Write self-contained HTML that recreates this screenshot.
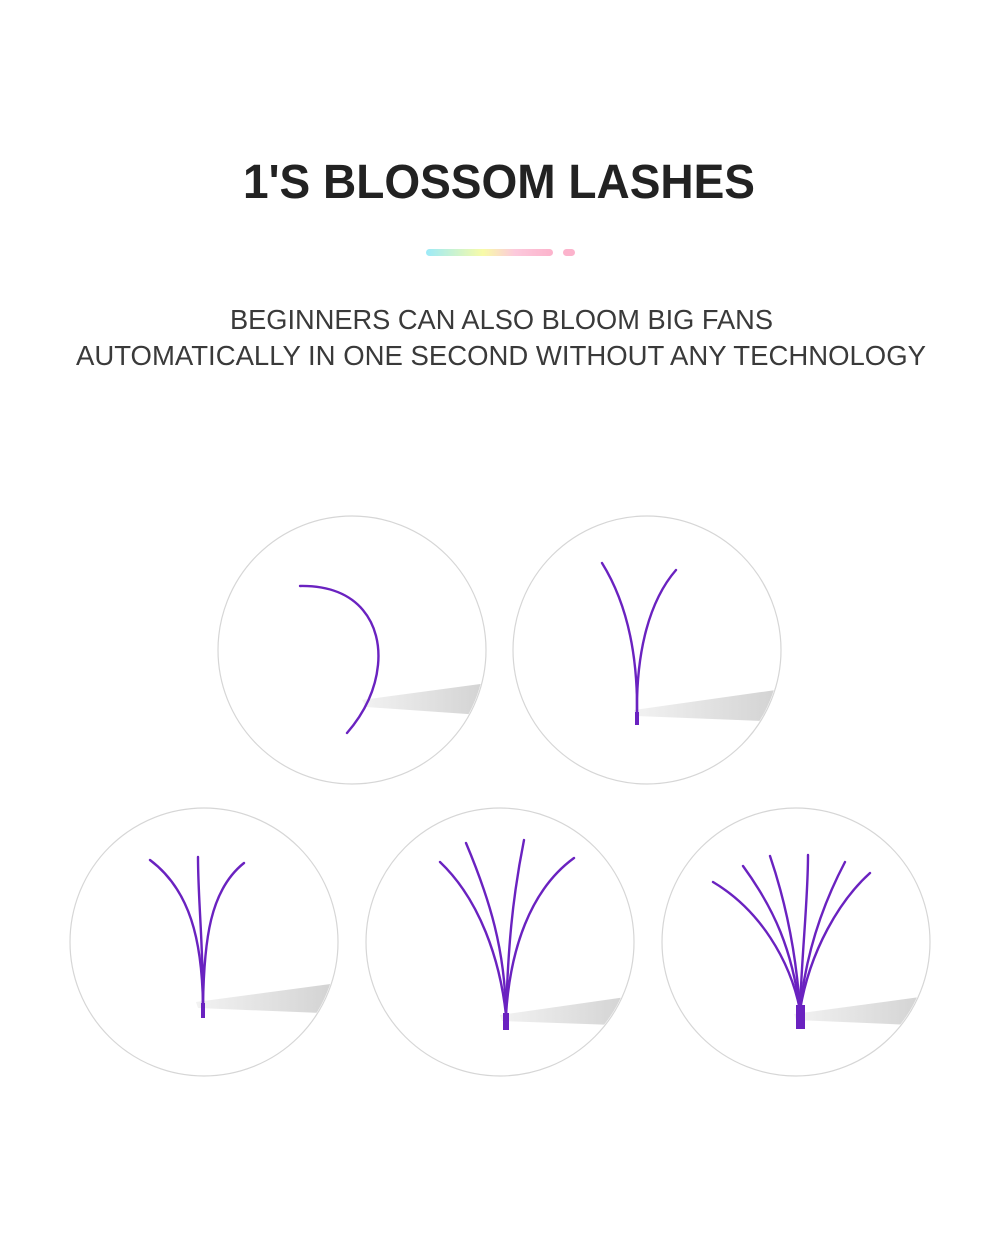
<!DOCTYPE html><html><head><style>
body{margin:0;width:1000px;height:1252px;background:#fff;font-family:"Liberation Sans",sans-serif;overflow:hidden}
</style></head><body>
<svg width="1000" height="1252" viewBox="0 0 1000 1252" xmlns="http://www.w3.org/2000/svg">
<defs>
<linearGradient id="bar" x1="0" x2="1"><stop offset="0" stop-color="#9ceaf8"/><stop offset=".45" stop-color="#f8fba8"/><stop offset=".7" stop-color="#fcc9dc"/><stop offset="1" stop-color="#fcb3cc"/></linearGradient>
<linearGradient id="tw" x1="0" x2="1"><stop offset="0" stop-color="#f2f2f2"/><stop offset="1" stop-color="#d0d0d0"/></linearGradient>
<clipPath id="c1"><circle cx="352" cy="650" r="133"/></clipPath>
<clipPath id="c2"><circle cx="647" cy="650" r="133"/></clipPath>
<clipPath id="c3"><circle cx="204" cy="942" r="133"/></clipPath>
<clipPath id="c4"><circle cx="500" cy="942" r="133"/></clipPath>
<clipPath id="c5"><circle cx="796" cy="942" r="133"/></clipPath>
</defs>
<text x="243" y="198" textLength="512" lengthAdjust="spacingAndGlyphs" font-size="48" font-weight="bold" fill="#222">1'S BLOSSOM LASHES</text>
<rect x="426" y="249" width="127" height="7" rx="3.5" fill="url(#bar)"/>
<rect x="563" y="249" width="12" height="7" rx="3.5" fill="#fcb3cc"/>
<text x="230" y="329" textLength="543" lengthAdjust="spacingAndGlyphs" font-size="28" fill="#3a3a3a">BEGINNERS CAN ALSO BLOOM BIG FANS</text>
<text x="76" y="365" textLength="850" lengthAdjust="spacingAndGlyphs" font-size="28" fill="#3a3a3a">AUTOMATICALLY IN ONE SECOND WITHOUT ANY TECHNOLOGY</text>
<g fill="none" stroke="#d6d6d6" stroke-width="1.2">
<circle cx="352" cy="650" r="134"/><circle cx="647" cy="650" r="134"/>
<circle cx="204" cy="942" r="134"/><circle cx="500" cy="942" r="134"/><circle cx="796" cy="942" r="134"/>
</g>
<g fill="url(#tw)">
<polygon clip-path="url(#c1)" points="362,700 495,682 495,716 366,707"/>
<polygon clip-path="url(#c2)" points="634,710 790,688 790,722 636,716"/>
<polygon clip-path="url(#c3)" points="196,1002 345,982 345,1014 198,1008"/>
<polygon clip-path="url(#c4)" points="500,1015 640,995 640,1026 502,1021"/>
<polygon clip-path="url(#c5)" points="794,1014 935,995 935,1026 796,1020"/>
</g>
<g fill="none" stroke="#6a22c0" stroke-width="2.4" stroke-linecap="round">
<path d="M300,586 C360,585 382,625 378,665 C375,695 360,718 347,733"/>
<path d="M637,715 C638,650 625,600 602,563"/>
<path d="M637,715 C636,650 650,600 676,570"/>
<path d="M203,1005 C202,940 190,890 150,860"/>
<path d="M203,1005 C203,940 198,900 198,857"/>
<path d="M203,1005 C204,940 210,890 244,863"/>
<path d="M506,1015 C500,960 480,900 440,862"/>
<path d="M506,1015 C505,950 490,900 466,843"/>
<path d="M506,1015 C508,950 512,900 524,840"/>
<path d="M506,1015 C510,950 530,890 574,858"/>
<path d="M800,1010 C790,960 760,910 713,882"/>
<path d="M800,1010 C792,950 775,910 743,866"/>
<path d="M800,1010 C796,950 785,900 770,856"/>
<path d="M800,1010 C802,950 808,900 808,855"/>
<path d="M800,1010 C806,950 825,900 845,862"/>
<path d="M800,1010 C810,950 840,900 870,873"/>
</g>
<g fill="#6a22c0">
<rect x="635" y="712" width="4" height="13"/>
<rect x="201" y="1003" width="4" height="15"/>
<rect x="503" y="1013" width="6" height="17"/>
<rect x="796" y="1005" width="9" height="24"/>
</g>
</svg>
</body></html>
